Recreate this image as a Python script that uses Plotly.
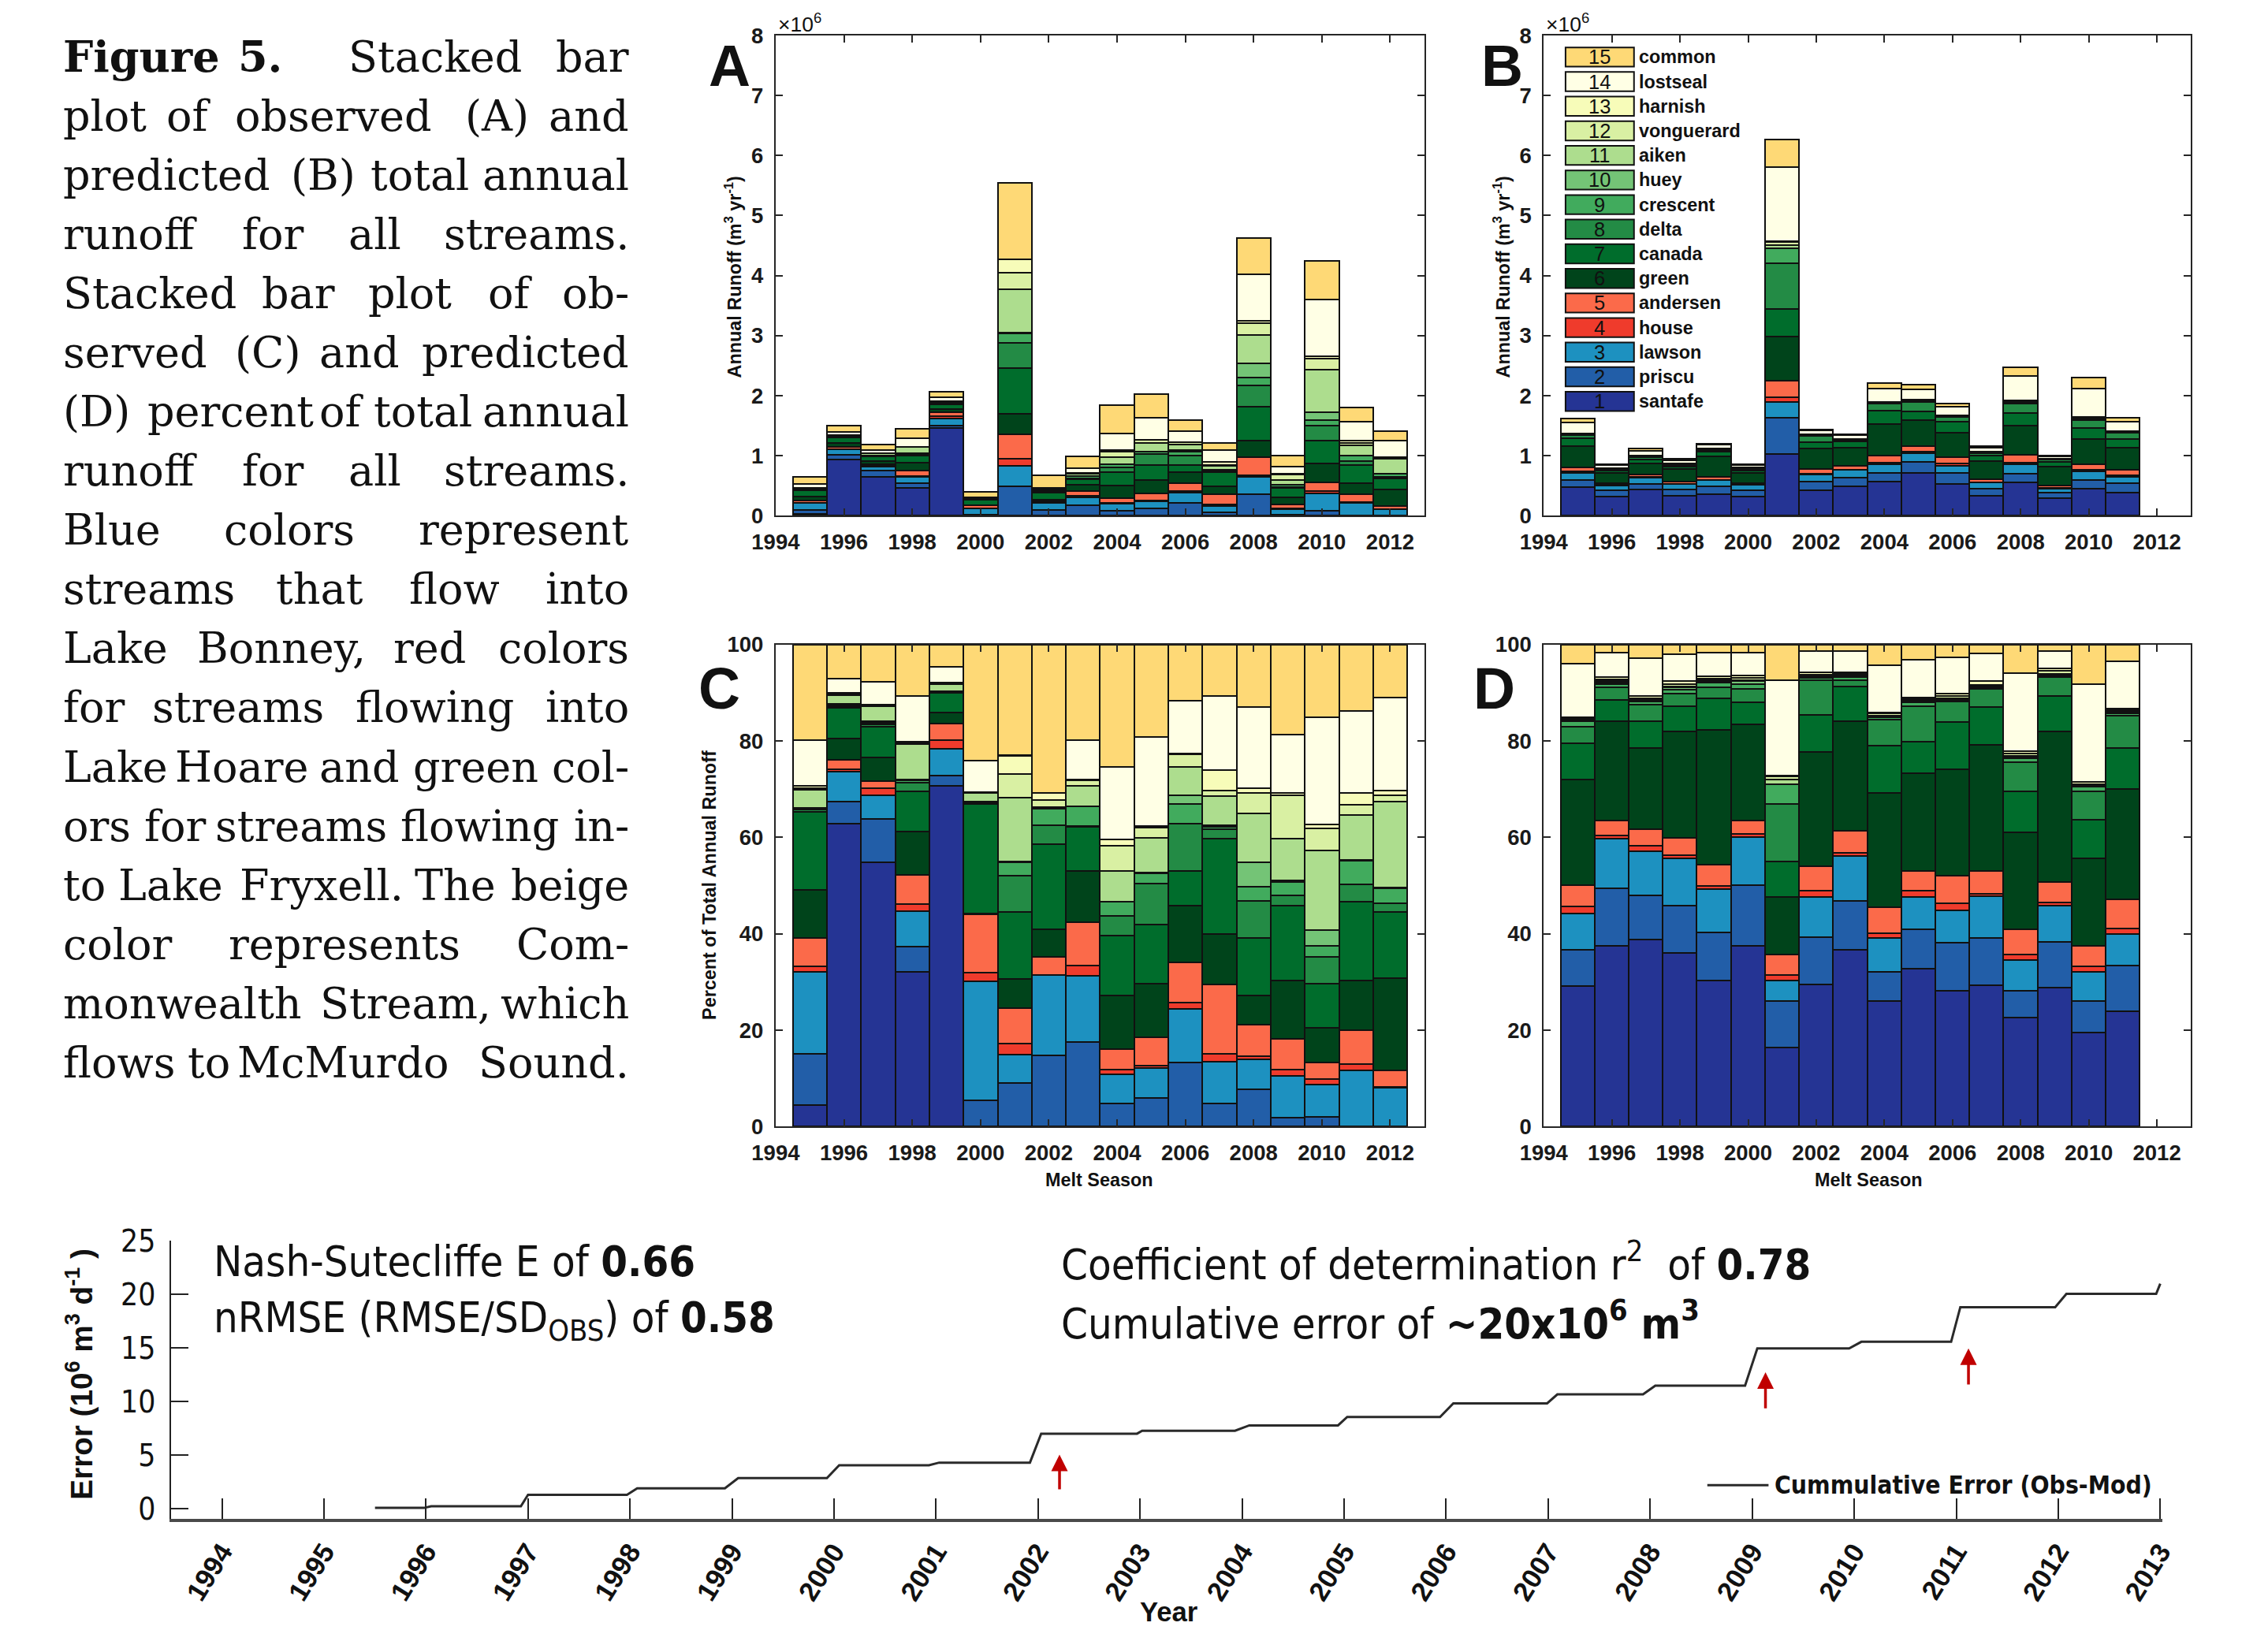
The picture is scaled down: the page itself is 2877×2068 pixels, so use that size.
import numpy as np
import plotly.graph_objects as go

W, H = 2877, 2068

# ---------------------------------------------------------------- data
STREAMS = ["santafe", "priscu", "lawson", "house", "andersen", "green", "canada",
           "delta", "crescent", "huey", "aiken", "vonguerard", "harnish", "lostseal", "common"]
COLORS = ["#253494", "#225ea8", "#1d91c0", "#ef3b2c", "#fb6a4a", "#00441b", "#006d2c",
          "#238b45", "#41ab5d", "#74c476", "#addd8e", "#d9f0a3", "#f7fcb9", "#ffffe5", "#fed976"]

YEARS_OBS = list(range(1995, 2013))
YEARS_MOD = list(range(1995, 2012))

# total annual runoff (x10^6 m3 / yr)
TOTAL_OBS = [0.655, 1.50, 1.19, 1.445, 2.065, 0.40, 5.54, 0.67, 0.99, 1.84, 2.03, 1.59,
             1.22, 4.63, 1.01, 4.24, 1.81, 1.41]
TOTAL_MOD = [1.62, 0.857, 1.12, 0.946, 1.205, 0.857, 6.27, 1.44, 1.357, 2.21, 2.18, 1.87,
             1.156, 2.47, 1.00, 2.30, 1.63]

# observed: cumulative % (top of each stream's segment), years 1995-2012
C_SANTAFE = [4.4, 62.9, 54.8, 32.1, 70.7, 0, 0, 0, 0, 0, 0, 0, 0, 0, 0, 0, 0, 0]
C_PRISCU = [15.1, 67.4, 63.9, 37.4, 72.8, 5.4, 9.0, 14.8, 17.6, 4.8, 5.9, 13.3, 4.8, 7.7, 1.8, 2.1, 0, 0]
C_LAWSON = [32.1, 73.7, 68.8, 44.7, 78.4, 30.2, 15.0, 31.4, 31.3, 10.9, 12.2, 24.4, 13.5, 14.0, 10.6, 8.7, 11.6, 8.1]
C_HOUSE = [33.2, 74.2, 70.3, 46.2, 80.2, 32.0, 17.2, 31.5, 33.5, 11.9, 12.7, 25.8, 15.1, 14.7, 11.9, 9.8, 13.0, 8.2]
C_ANDERSEN = [39.1, 76.2, 71.7, 52.2, 83.7, 44.1, 24.6, 35.3, 42.4, 16.1, 18.6, 34.1, 29.5, 21.1, 18.3, 13.3, 20.1, 11.7]
C_GREEN = [49.1, 80.5, 76.6, 61.2, 85.9, 44.3, 30.7, 41.0, 53.0, 27.2, 29.7, 45.9, 40.0, 27.2, 30.4, 20.5, 30.4, 30.8]
C_CANADA = [65.3, 86.9, 83.0, 69.6, 90.1, 67.0, 44.5, 58.6, 62.2, 39.6, 41.9, 53.0, 59.8, 39.2, 45.9, 29.7, 46.7, 44.6]
C_DELTA = [65.8, 87.2, 83.5, 71.3, 90.2, 67.2, 52.0, 62.5, 62.4, 43.7, 50.5, 62.9, 61.8, 46.9, 48.0, 35.3, 50.2, 46.4]
C_CRESCENT = [66.0, 87.5, 83.8, 71.8, 90.3, 67.4, 54.8, 66.0, 66.4, 46.6, 52.5, 67.0, 62.2, 49.8, 50.7, 37.6, 55.2, 49.5]
C_HUEY = [66.2, 87.8, 84.1, 72.1, 90.4, 67.5, 55.0, 66.2, 66.5, 46.7, 52.7, 68.8, 62.5, 54.8, 51.1, 40.8, 55.3, 49.7]
C_AIKEN = [69.9, 89.6, 87.2, 79.4, 91.9, 69.2, 68.2, 66.3, 70.7, 53.0, 59.9, 74.6, 68.6, 65.0, 59.7, 57.3, 64.7, 67.5]
C_VONGUERARD = [70.3, 89.8, 87.4, 79.6, 92.1, 69.3, 73.1, 67.8, 71.9, 58.3, 62.1, 77.3, 69.8, 69.2, 68.8, 61.9, 66.8, 68.8]
C_HARNISH = [70.7, 90.1, 87.5, 79.9, 92.2, 69.4, 77.0, 69.2, 72.1, 59.6, 62.4, 77.4, 74.0, 70.3, 69.2, 62.7, 69.2, 69.8]
C_LOSTSEAL = [80.2, 92.9, 92.3, 89.4, 95.5, 76.0, 77.1, 69.3, 80.2, 74.6, 80.8, 88.4, 89.4, 87.0, 81.4, 84.9, 86.3, 89.1]
C_COMMON = [100] * 18

# predicted: cumulative % (top of each stream's segment), years 1995-2011
D_SANTAFE = [29.2, 37.6, 38.8, 36.0, 30.3, 37.5, 16.4, 29.5, 36.7, 26.1, 32.8, 28.2, 29.3, 22.6, 28.9, 19.6, 23.9]
D_PRISCU = [36.7, 49.5, 48.0, 45.8, 40.3, 50.1, 26.1, 39.4, 46.8, 32.2, 41.0, 38.1, 39.2, 28.2, 38.4, 26.1, 33.5]
D_LAWSON = [44.3, 59.7, 57.1, 55.7, 49.3, 60.1, 30.3, 47.7, 56.1, 39.1, 47.7, 44.8, 47.8, 34.6, 45.8, 32.2, 39.9]
D_HOUSE = [45.7, 60.4, 58.3, 56.4, 50.0, 60.8, 31.4, 48.9, 56.8, 40.1, 49.0, 46.4, 48.3, 35.7, 46.5, 33.2, 41.1]
D_ANDERSEN = [50.1, 63.5, 61.8, 59.9, 54.3, 63.5, 35.8, 54.0, 61.4, 45.5, 53.0, 52.0, 53.0, 41.0, 50.7, 37.6, 47.2]
D_GREEN = [72.1, 84.1, 78.5, 82.0, 82.4, 83.5, 47.7, 77.7, 84.1, 69.2, 73.4, 74.2, 79.2, 61.1, 82.0, 55.6, 70.0]
D_CANADA = [79.5, 88.6, 84.1, 87.3, 88.8, 88.0, 55.0, 85.5, 91.3, 79.1, 79.9, 83.9, 87.0, 69.6, 89.4, 63.7, 78.5]
D_DELTA = [83.0, 91.1, 87.5, 89.8, 91.1, 90.9, 67.0, 92.6, 92.7, 84.5, 87.3, 88.3, 90.8, 75.6, 93.3, 69.6, 85.2]
D_CRESCENT = [84.1, 91.9, 88.2, 90.6, 92.1, 91.9, 71.0, 93.1, 93.3, 85.0, 88.0, 88.5, 90.9, 76.5, 93.7, 70.5, 85.7]
D_HUEY = [84.3, 92.1, 88.4, 91.1, 92.3, 92.4, 71.1, 93.4, 93.5, 85.1, 88.2, 88.6, 91.1, 76.6, 93.9, 70.7, 86.0]
D_AIKEN = [84.5, 92.4, 88.6, 91.4, 92.6, 92.7, 72.0, 93.6, 93.7, 85.3, 88.5, 88.8, 91.3, 76.9, 94.0, 70.9, 86.1]
D_VONGUERARD = [84.7, 92.8, 88.9, 91.9, 92.9, 93.1, 72.7, 93.8, 93.9, 85.7, 88.8, 89.3, 91.7, 77.4, 94.6, 71.1, 86.4]
D_HARNISH = [85.0, 93.3, 89.4, 92.4, 93.4, 93.7, 72.9, 94.2, 94.3, 86.0, 89.0, 89.8, 92.4, 77.9, 95.1, 71.5, 86.7]
D_LOSTSEAL = [96.1, 98.3, 97.2, 98.0, 98.3, 98.3, 92.6, 98.7, 98.7, 95.8, 96.9, 97.4, 98.2, 94.1, 98.7, 91.9, 96.6]
D_COMMON = [100] * 17

# cumulative error (Obs-Mod), 10^6 m3
ERR_T = [1995.50, 1995.98, 1996.05, 1996.93, 1997.00, 1997.97, 1998.07, 1998.93, 1999.06,
         1999.93, 2000.05, 2000.93, 2001.03, 2001.92, 2002.03, 2002.97, 2003.02, 2003.93,
         2004.07, 2004.94, 2005.03, 2005.94, 2006.07, 2006.99, 2007.09, 2007.93, 2008.05,
         2008.93, 2009.05, 2009.95, 2010.07, 2010.95, 2011.04, 2011.97, 2012.08, 2012.96, 2013.0]
ERR_V = [0.07, 0.07, 0.22, 0.22, 1.30, 1.30, 1.90, 1.90, 2.85,
         2.85, 4.05, 4.05, 4.30, 4.30, 7.00, 7.00, 7.27, 7.27,
         7.77, 7.77, 8.56, 8.56, 9.83, 9.83, 10.67, 10.67, 11.49,
         11.49, 14.96, 14.96, 15.58, 15.58, 18.81, 18.81, 20.05, 20.05, 21.0]

ARROW_X = [2002.21, 2009.13, 2011.12]
ARROW_Y0 = [1.69, 9.26, 11.49]
ARROW_Y1 = [5.04, 12.73, 14.96]

YEAR_TICKS = list(range(1994, 2013, 2))
ERR_TICKS = list(range(1994, 2014))

C_TOPS = [C_SANTAFE, C_PRISCU, C_LAWSON, C_HOUSE, C_ANDERSEN, C_GREEN, C_CANADA, C_DELTA,
          C_CRESCENT, C_HUEY, C_AIKEN, C_VONGUERARD, C_HARNISH, C_LOSTSEAL, C_COMMON]
D_TOPS = [D_SANTAFE, D_PRISCU, D_LAWSON, D_HOUSE, D_ANDERSEN, D_GREEN, D_CANADA, D_DELTA,
          D_CRESCENT, D_HUEY, D_AIKEN, D_VONGUERARD, D_HARNISH, D_LOSTSEAL, D_COMMON]


def segments(tops):
    arr = np.array(tops, dtype=float)
    arr = np.vstack([np.zeros(arr.shape[1]), arr])
    return np.clip(np.diff(arr, axis=0), 0, None)


c_pct = segments(C_TOPS)
d_pct = segments(D_TOPS)
a_val = c_pct / 100.0 * np.array(TOTAL_OBS)
b_val = d_pct / 100.0 * np.array(TOTAL_MOD)

# ---------------------------------------------------------------- layout helpers
# the photographed page appears slightly scaled/offset; compensate so that
# target pixel positions (measured on the reference) land where intended
S, OX, OY = 0.981, 32.5, 23.0


def fs(size):
    return round(size / S, 1)


def px(x):
    return ((x - OX) / S) / W


def py(y):
    return 1 - ((y - OY) / S) / H


fig = go.Figure()
EDGE = dict(color="#111111", width=2)

for vals, years, xa, ya in [(a_val, YEARS_OBS, "x", "y"), (b_val, YEARS_MOD, "x2", "y2"),
                            (c_pct, YEARS_OBS, "x3", "y3"), (d_pct, YEARS_MOD, "x4", "y4")]:
    for i, name in enumerate(STREAMS):
        fig.add_trace(go.Bar(x=years, y=vals[i], name=name, width=1.0,
                             marker=dict(color=COLORS[i], line=EDGE),
                             xaxis=xa, yaxis=ya, showlegend=False))

fig.add_trace(go.Scatter(x=ERR_T, y=ERR_V, mode="lines", line=dict(color="#2a2a2a", width=3),
                         xaxis="x5", yaxis="y5", showlegend=False,
                         name="Cummulative Error (Obs-Mod)"))

TICKFONT = dict(family="Liberation Sans, Arial", size=fs(27), color="#1a1a1a", weight="bold")


def frame_x(domain, anchor):
    return dict(domain=domain, anchor=anchor, range=[1994, 2013], tickvals=YEAR_TICKS,
                showline=True, linecolor="#262626", linewidth=2, mirror="ticks",
                ticks="inside", ticklen=9, tickwidth=2, tickcolor="#262626",
                tickfont=TICKFONT, showgrid=False, zeroline=False, ticklabelstandoff=8)


def frame_y(domain, anchor, rng, dtick):
    return dict(domain=domain, anchor=anchor, range=rng, dtick=dtick, tick0=0,
                showline=True, linecolor="#262626", linewidth=2, mirror="ticks",
                ticks="inside", ticklen=9, tickwidth=2, tickcolor="#262626",
                tickfont=TICKFONT, showgrid=False, zeroline=False, ticklabelstandoff=8)


XA = [px(983.5), px(1804.7)]
XB = [px(1955.9), px(2775.3)]
YAB = [py(655.0), py(45.9)]
YCD = [py(1429.3), py(818.3)]

fig.update_layout(
    width=W, height=H, margin=dict(l=0, r=0, t=0, b=0),
    paper_bgcolor="white", plot_bgcolor="white",
    barmode="stack", bargap=0,
    xaxis=frame_x(XA, "y"), yaxis=frame_y(YAB, "x", [0, 8], 1),
    xaxis2=frame_x(XB, "y2"), yaxis2=frame_y(YAB, "x2", [0, 8], 1),
    xaxis3=frame_x(XA, "y3"), yaxis3=frame_y(YCD, "x3", [0, 100], 20),
    xaxis4=frame_x(XB, "y4"), yaxis4=frame_y(YCD, "x4", [0, 100], 20),
    xaxis5=dict(domain=[px(218), px(2739)], anchor="y5", range=[1993.5, 2013.02],
                tickvals=ERR_TICKS, showline=True, linecolor="#4a4a4a", linewidth=4,
                ticks="inside", ticklen=26, tickwidth=1.5, tickcolor="#222222",
                tickangle=-58, tickfont=dict(family="Liberation Sans, Arial", size=fs(34),
                                             color="#111111", weight="bold"),
                showgrid=False, zeroline=False, ticklabelstandoff=4),
    yaxis5=dict(domain=[py(1926.5), py(1574.3)], anchor="x5", range=[-0.93, 25],
                tickvals=[0, 5, 10, 15, 20, 25], showline=True, linecolor="#222222",
                linewidth=1.5, ticks="inside", ticklen=22, tickwidth=1.5, tickcolor="#222222",
                tickfont=dict(family="Liberation Sans Narrow, DejaVu Sans Condensed, Arial Narrow",
                              size=fs(38), color="#111111"),
                showgrid=False, zeroline=False, ticklabelstandoff=10),
)

ann = []
shapes = []


def text(x, y, t, size, bold=False, family="Liberation Sans, Arial", xanchor="center",
         yanchor="middle", angle=0, color="#111111"):
    ann.append(dict(x=px(x), y=py(y), xref="paper", yref="paper", text=t, showarrow=False,
                    xanchor=xanchor, yanchor=yanchor, textangle=angle,
                    font=dict(family=family, size=fs(size), color=color,
                              weight="bold" if bold else "normal")))


# panel letters
for letter, x, y in [("A", 925, 85), ("B", 1903, 85), ("C", 912, 874), ("D", 1893, 874)]:
    text(x, y, letter, 72, bold=True)

# exponent labels
text(985, 30, "×10<sup>6</sup>", 26, xanchor="left")
text(1957, 30, "×10<sup>6</sup>", 26, xanchor="left")

# axis titles
text(930, 352, "Annual Runoff (m<sup>3</sup> yr<sup>-1</sup>)", 23, bold=True, angle=-90)
text(1903, 352, "Annual Runoff (m<sup>3</sup> yr<sup>-1</sup>)", 23, bold=True, angle=-90)
text(899, 1123, "Percent of Total Annual Runoff", 23, bold=True, angle=-90)
text(1393, 1497, "Melt Season", 23, bold=True)
text(2367, 1497, "Melt Season", 23, bold=True)

# legend of panel B (drawn in B's data coordinates)
LEG_X0, LEG_X1 = 1994.64, 1996.65
for i in range(15):
    top = 7.80 - (14 - i) * 0.4096
    shapes.append(dict(type="rect", xref="x2", yref="y2", x0=LEG_X0, x1=LEG_X1,
                       y0=top - 0.32, y1=top, fillcolor=COLORS[i],
                       line=dict(color="#111111", width=2)))
    ann.append(dict(x=(LEG_X0 + LEG_X1) / 2, y=top - 0.16, xref="x2", yref="y2",
                    text=str(i + 1), showarrow=False, xanchor="center", yanchor="middle",
                    font=dict(family="Liberation Sans, Arial", size=fs(25), color="#111111")))
    ann.append(dict(x=1996.75, y=top - 0.16, xref="x2", yref="y2", text=STREAMS[i],
                    showarrow=False, xanchor="left", yanchor="middle",
                    font=dict(family="Liberation Sans, Arial", size=fs(23), color="#111111",
                              weight="bold")))

# bottom panel texts
COND = "DejaVu Sans Condensed, Liberation Sans Narrow, Arial Narrow, sans-serif"
text(270, 1600, "Nash-Sutecliffe E of <b>0.66</b>", 53, family=COND, xanchor="left")
text(270, 1675, "nRMSE (RMSE/SD<sub>OBS</sub>) of <b>0.58</b>", 53, family=COND, xanchor="left")
text(1343, 1600, "Coefficient of determination r<sup>2</sup>  of <b>0.78</b>", 53, family=COND,
     xanchor="left")
text(1343, 1675, "Cumulative error of <b>~20x10<sup>6</sup> m<sup>3</sup></b>", 53, family=COND,
     xanchor="left")
text(101, 1743, "Error (10<sup>6</sup> m<sup>3</sup> d<sup>-1</sup> )", 38, bold=True, angle=-90)
text(1481, 2024, "Year", 34, bold=True, yanchor="top")

# arrows
for x, y0, y1 in zip(ARROW_X, ARROW_Y0, ARROW_Y1):
    ann.append(dict(x=x, y=y1, ax=x, ay=y0, xref="x5", yref="y5", axref="x5", ayref="y5",
                    text="", showarrow=True, arrowhead=2, arrowsize=1.2, arrowwidth=3.5,
                    arrowcolor="#c00000"))

# line legend
shapes.append(dict(type="line", xref="x5", yref="y5", x0=2008.56, x1=2009.16, y0=2.19, y1=2.19,
                   line=dict(color="#2a2a2a", width=3)))
ann.append(dict(x=2009.20, y=2.19, xref="x5", yref="y5", text="Cummulative Error (Obs-Mod)",
                showarrow=False, xanchor="left", yanchor="middle",
                font=dict(family="Liberation Sans Narrow, DejaVu Sans Condensed, Arial Narrow",
                          size=fs(31), color="#111111", weight="bold")))

# caption (justified by word placement)
CAPTION = [
    ("Figure|5.|Stacked|bar", [330.5, 552]),
    ("plot|of|observed|(A)|and", [241, 423.5, 630.5]),
    ("predicted|(B)|total|annual", [410.5, 533]),
    ("runoff|for|all|streams.", [346.5, 476.5]),
    ("Stacked|bar|plot|of|ob-", [379, 520.5, 648]),
    ("served|(C)|and|predicted", [340.5, 456.5]),
    ("(D)|percent|of|total|annual", [293, 434, 536.5]),
    ("runoff|for|all|streams.", [346.5, 476.5]),
    ("Blue|colors|represent", [368]),
    ("streams|that|flow|into", [406.5, 576.5]),
    ("Lake|Bonney,|red|colors", [358, 545.5]),
    ("for|streams|flowing|into", [303, 551.5]),
    ("Lake|Hoare|and|green|col-", [308, 456.5, 604]),
    ("ors|for|streams|flowing|in-", [223, 383, 609]),
    ("to|Lake|Fryxell.|The|beige", [218, 409, 578]),
    ("color|represents|Com-", [438]),
    ("monwealth|Stream,|which", [515.5]),
    ("flows|to|McMurdo|Sound.", [266.5, 436.5]),
]
SERIF = "DejaVu Serif, Liberation Serif, serif"
LEFT, RIGHT = 79, 800
for li, (line, centers) in enumerate(CAPTION):
    words = line.split("|")
    y = 73.4 + 75.0 * li
    for wi, w in enumerate(words):
        bold = li == 0 and wi < 2
        if wi == 0:
            text(LEFT, y, w, 53, bold=bold, family=SERIF, xanchor="left")
        elif wi == len(words) - 1:
            text(RIGHT, y, w, 53, bold=bold, family=SERIF, xanchor="right")
        else:
            text(centers[wi - 1], y, w, 53, bold=bold, family=SERIF, xanchor="center")

fig.update_layout(annotations=ann, shapes=shapes)
fig.write_html(
    "out.html",
    config={"displayModeBar": False},
    post_script="document.documentElement.style.margin='0';"
                "document.documentElement.style.overflow='hidden';"
                "document.body.style.margin='0';document.body.style.padding='0';"
                "document.body.style.overflow='hidden';",
)
